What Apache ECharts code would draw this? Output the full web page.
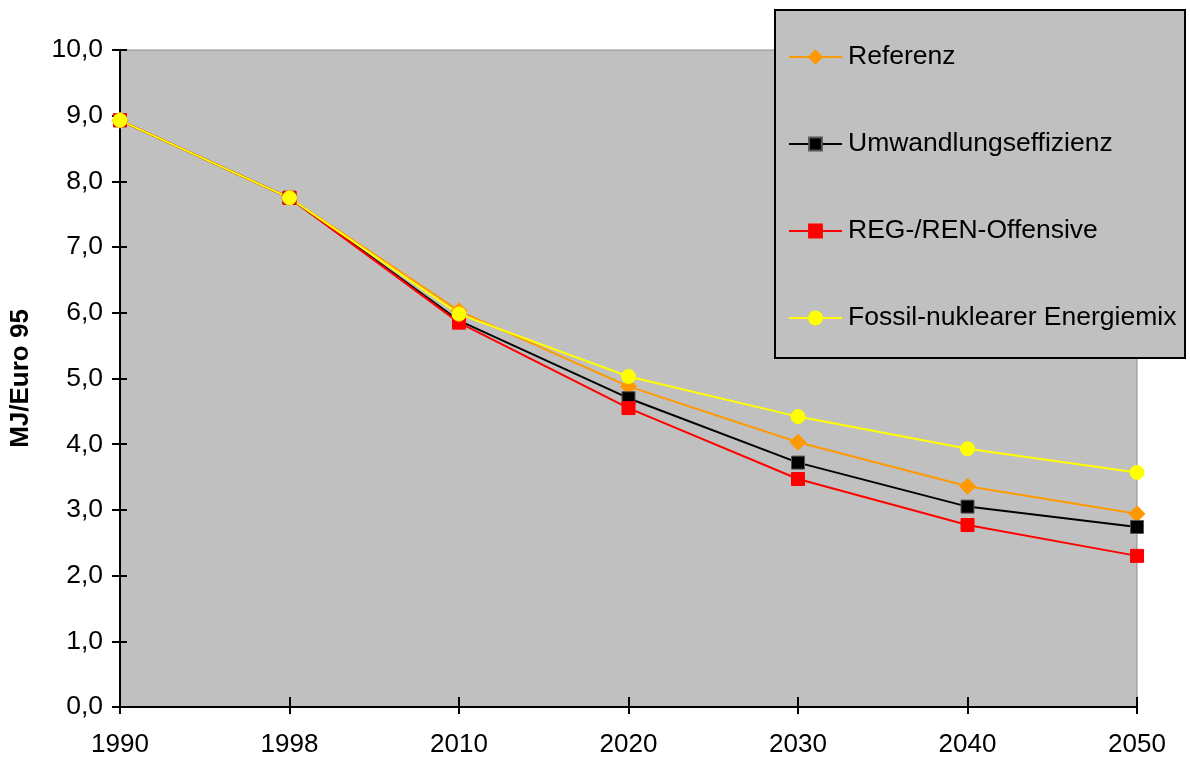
<!DOCTYPE html>
<html>
<head>
<meta charset="utf-8">
<script src="https://cdn.jsdelivr.net/npm/echarts@6/dist/echarts.min.js"></script>
<style>
  html, body { margin: 0; padding: 0; background: #ffffff; }
  #chart { width: 1190px; height: 758px; }
</style>
</head>
<body>
<div id="chart"></div>
<script>
// Energy intensity (MJ per Euro 95) by scenario
const years = ['1990', '1998', '2010', '2020', '2030', '2040', '2050'];
const referenz = [8.93, 7.75, 6.03, 4.88, 4.03, 3.36, 2.94];
const umwandlung = [8.93, 7.75, 5.88, 4.70, 3.72, 3.05, 2.74];
const regRen = [8.93, 7.75, 5.85, 4.55, 3.47, 2.77, 2.30];
const fossil = [8.93, 7.75, 5.98, 5.03, 4.42, 3.93, 3.57];
const yTicks = [0, 1, 2, 3, 4, 5, 6, 7, 8, 9, 10];

const FONT = '"Liberation Sans", Arial, sans-serif';
const chart = echarts.init(document.getElementById('chart'), null, { renderer: 'canvas' });

function lineSeries(name, data, color, symbol, size, border) {
  return {
    name: name,
    type: 'line',
    data: data,
    xAxisIndex: 0,
    yAxisIndex: 0,
    symbol: symbol,
    symbolSize: size,
    showAllSymbol: true,
    lineStyle: { color: color, width: 2 },
    itemStyle: { color: color, borderColor: border || color, borderWidth: 1 },
    emphasis: { disabled: true },
    animation: false
  };
}

const option = {
  backgroundColor: '#ffffff',
  animation: false,
  grid: {
    left: 120, right: 53, top: 50, bottom: 50,
    show: true,
    backgroundColor: '#C0C0C0',
    borderColor: '#8c8c8c',
    borderWidth: 1
  },
  graphic: [{
    type: 'rect',
    z: 3,
    shape: { x: 775, y: 10, width: 410, height: 348 },
    style: { fill: '#C0C0C0', stroke: '#000000', lineWidth: 2 }
  }],
  legend: {
    z: 5,
    left: 775,
    top: 10,
    orient: 'vertical',
    padding: [32, 8, 20, 13],
    itemGap: 57,
    itemWidth: 53,
    itemHeight: 16,
    textStyle: { fontFamily: FONT, fontSize: 26.5, color: '#000000', lineHeight: 30, padding: [0, 0, 0, 1] },
    data: ['Referenz', 'Umwandlungseffizienz', 'REG-/REN-Offensive', 'Fossil-nuklearer Energiemix']
  },
  xAxis: [{
    type: 'category',
    data: years,
    boundaryGap: false,
    position: 'bottom',
    axisLine: { lineStyle: { color: '#000000', width: 2 } },
    axisTick: { show: true, length: 7, lineStyle: { color: '#000000', width: 2 } },
    axisLabel: { fontFamily: FONT, fontSize: 26, color: '#000000', margin: 25 },
    splitLine: { show: false }
  }, {
    type: 'category',
    data: years,
    boundaryGap: false,
    position: 'bottom',
    offset: 0,
    axisLine: { show: false },
    axisTick: { show: true, inside: true, length: 10, lineStyle: { color: '#000000', width: 2 } },
    axisLabel: { show: false },
    splitLine: { show: false }
  }],
  yAxis: [{
    type: 'value',
    min: yTicks[0],
    max: yTicks[yTicks.length - 1],
    interval: 1,
    position: 'left',
    name: 'MJ/Euro 95',
    nameLocation: 'middle',
    nameGap: 86,
    nameRotate: 90,
    nameTextStyle: { fontFamily: FONT, fontSize: 26, fontWeight: 'bold', color: '#000000' },
    axisLine: { show: true, lineStyle: { color: '#000000', width: 2 } },
    axisTick: { show: true, length: 8, lineStyle: { color: '#000000', width: 2 } },
    axisLabel: {
      fontFamily: FONT, fontSize: 26.5, color: '#000000', margin: 17,
      formatter: v => v.toFixed(1).replace('.', ',')
    },
    splitLine: { show: false }
  }, {
    type: 'value',
    min: yTicks[0],
    max: yTicks[yTicks.length - 1],
    interval: 1,
    position: 'left',
    offset: 0,
    axisLine: { show: false },
    axisTick: { show: true, inside: true, length: 7, lineStyle: { color: '#000000', width: 2 } },
    axisLabel: { show: false },
    splitLine: { show: false }
  }],
  series: [
    lineSeries('Referenz', referenz, '#FF9900', 'diamond', 16),
    lineSeries('Umwandlungseffizienz', umwandlung, '#000000', 'rect', 13, '#555555'),
    lineSeries('REG-/REN-Offensive', regRen, '#FF0000', 'rect', 13),
    lineSeries('Fossil-nuklearer Energiemix', fossil, '#FFFF00', 'circle', 14)
  ]
};

chart.setOption(option);
</script>
</body>
</html>
